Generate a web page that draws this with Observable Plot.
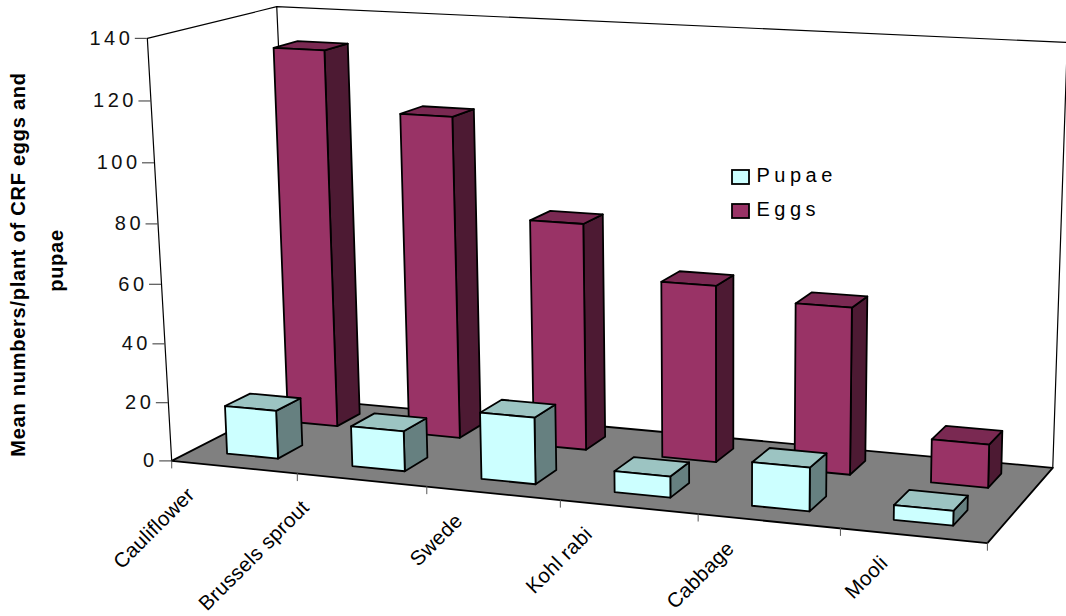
<!DOCTYPE html>
<html>
<head>
<meta charset="utf-8">
<title>Mean numbers per plant of CRF eggs and pupae</title>
<script src="https://cdn.jsdelivr.net/npm/d3@7"></script>
<script src="https://cdn.jsdelivr.net/npm/@observablehq/plot@0.6"></script>
<style>
  html, body { margin: 0; padding: 0; background: #fff; }
  svg { display: block; }
</style>
</head>
<body>
<div id="chart"></div>
<script>
// Chart values
const categories = ["Cauliflower", "Brussels sprout", "Swede", "Kohl rabi", "Cabbage", "Mooli"];
const pupae = [16.5, 13.6, 22.3, 7, 14.3, 4.8];
const eggs = [130.2, 110.3, 77.3, 59.8, 56, 14.5];
const valueTicks = [0, 20, 40, 60, 80, 100, 120, 140];
const valueMax = 140;
const titleLines = ["Mean numbers/plant of CRF eggs and", "pupae"];
const seriesNames = ["Pupae", "Eggs"];

// Horizontal nudge of each rotated category label, in screen units
const labelShift = [-43, -56, -34, -40, -38, -29];

// Camera calibration: box corners (category, depth, value) and where they land on screen
const corners = [
  [0, 0, 0, 170, 460],
  [1, 0, 0, 987, 543],
  [0, 1, 0, 295, 398],
  [1, 1, 0, 1052, 467],
  [0, 0, 1, 148, 38],
  [0, 1, 1, 275, 6],
  [1, 1, 1, 1067, 42]
];

// Least-squares fit of a 3x4 projective camera with its last entry fixed at 1
function fitCamera(pairs) {
  const rows = [], rhs = [];
  for (const [u, v, w, x, y] of pairs) {
    rows.push([u, v, w, 1, 0, 0, 0, 0, -x * u, -x * v, -x * w]); rhs.push(x);
    rows.push([0, 0, 0, 0, u, v, w, 1, -y * u, -y * v, -y * w]); rhs.push(y);
  }
  const n = 11;
  const M = d3.range(n).map(i => d3.range(n + 1).map(j =>
    d3.sum(rows, (r, k) => r[i] * (j < n ? r[j] : rhs[k]))));
  for (let c = 0; c < n; c++) {
    let p = c;
    for (let r = c + 1; r < n; r++) if (Math.abs(M[r][c]) > Math.abs(M[p][c])) p = r;
    [M[c], M[p]] = [M[p], M[c]];
    for (let r = 0; r < n; r++) {
      if (r === c) continue;
      const f = M[r][c] / M[c][c];
      for (let j = c; j <= n; j++) M[r][j] -= f * M[c][j];
    }
  }
  return M.map((r, i) => r[n] / r[i]);
}
const cam = fitCamera(corners);

// Project (category position, depth 0..1, value) to screen space
function project(cat, depth, value) {
  const u = cat / categories.length, v = depth, w = value / valueMax;
  const d = cam[8] * u + cam[9] * v + cam[10] * w + 1;
  return [
    (cam[0] * u + cam[1] * v + cam[2] * w + cam[3]) / d,
    (cam[4] * u + cam[5] * v + cam[6] * w + cam[7]) / d
  ];
}

// Bars lean a little less than the walls: only part of the sideways drift is kept
const barLean = 0.85;
function projectBar(cat, depth, value) {
  const [x0] = project(cat, depth, 0);
  const [x, y] = project(cat, depth, value);
  return [x0 + (x - x0) * barLean, y];
}

// Polygon faces, listed back to front so later ones paint over earlier ones
const faces = [];
function addFace(fill, pts, proj = project) {
  const id = faces.length ? faces[faces.length - 1].id + 1 : 0;
  for (const p of pts) {
    const [x, y] = proj(...p);
    faces.push({id, x, y, fill});
  }
}
addFace("#808080", [[0, 0, 0], [6, 0, 0], [6, 1, 0], [0, 1, 0]]);

const barInset = 0.295, barShift = -0.015;
function addBar(i, depthFront, depthBack, value, front, top, side) {
  const l = i + barInset + barShift, r = i + 1 - barInset + barShift;
  addFace(side, [[r, depthFront, 0], [r, depthBack, 0], [r, depthBack, value], [r, depthFront, value]], projectBar);
  addFace(top, [[l, depthFront, value], [r, depthFront, value], [r, depthBack, value], [l, depthBack, value]], projectBar);
  addFace(front, [[l, depthFront, 0], [r, depthFront, 0], [r, depthFront, value], [l, depthFront, value]], projectBar);
}
eggs.forEach((v, i) => addBar(i, 0.66, 0.86, v, "#993366", "#7a2952", "#4d1a33"));
pupae.forEach((v, i) => addBar(i, 0.16, 0.36, v, "#ccffff", "#9cc4c2", "#668080"));

// Open frame lines of the two walls
const frame = [];
[[[0, 0, 0], [0, 0, valueMax], [0, 1, valueMax], [6, 1, valueMax], [6, 1, 0]],
 [[0, 1, valueMax], [0, 1, 0]]].forEach((path, id) => {
  for (const p of path) {
    const [x, y] = project(...p);
    frame.push({id, x, y});
  }
});

// Value axis ticks and labels
const valueAxis = valueTicks.map(t => {
  const [x, y] = project(0, 0, t);
  return {t, x, y};
});

// Category ticks along the front edge of the floor
const catTicks = d3.range(categories.length + 1).map(i => {
  const [x, y] = project(i, 0, 0);
  return {x, y};
});

const catLabels = categories.map((name, i) => {
  const [x, y] = project(i + 0.5, 0, 0);
  return {name, x: x + labelShift[i], y: y + 24};
});

const legend = seriesNames.map((name, row) => ({name, row, fill: ["#ccffff", "#993366"][row]}));
const legendX = 732, legendY = 170, legendRow = 34, swatch = 17;

const chart = Plot.plot({
  width: 1066,
  height: 616,
  margin: 0,
  x: {domain: [0, 1066], range: [0, 1066], axis: null},
  y: {domain: [0, 616], range: [0, 616], axis: null},
  style: {background: "#fff", fontFamily: "Liberation Sans, Arial, sans-serif"},
  marks: [
    Plot.line(frame, {x: "x", y: "y", z: "id", stroke: "#000", strokeWidth: 1.2}),
    Plot.line(faces, {x: "x", y: "y", z: "id", fill: "fill", stroke: "#000", strokeWidth: 1.8,
      curve: "linear-closed", strokeLinejoin: "round"}),
    Plot.ruleX(catTicks, {x: "x", y1: "y", y2: d => d.y + 8, stroke: "#555", strokeWidth: 1}),
    Plot.ruleY(valueAxis, {x1: d => d.x - 12, x2: "x", y: "y", stroke: "#333", strokeWidth: 1}),
    Plot.text(valueAxis, {x: d => d.x - 14, y: "y", text: d => String(d.t), textAnchor: "end",
      fontSize: 20, fill: "#111"}),
    Plot.text(catLabels, {x: "x", y: "y", text: "name", rotate: -45, textAnchor: "end",
      fontSize: 20.5, fill: "#000"}),
    Plot.text(titleLines, {x: (d, i) => [18, 56][i], y: (d, i) => [264, 260][i], text: d => d, rotate: -90,
      fontSize: 20, fontWeight: "bold", fill: "#000"}),
    Plot.rect(legend, {x1: () => legendX, x2: () => legendX + swatch,
      y1: d => legendY + d.row * legendRow, y2: d => legendY + d.row * legendRow + 14,
      fill: "fill", stroke: "#000", strokeWidth: 1.8}),
    Plot.text(legend, {x: () => legendX + swatch + 7, y: d => legendY + d.row * legendRow + 5,
      text: "name", textAnchor: "start", fontSize: 20, fill: "#000"})
  ]
});

// Tracking for each group of labels, which the text mark has no option for
const tracking = new Map([
  ...valueTicks.map(t => [String(t), "3.5px"]),
  ...categories.map(c => [c, "0.3px"]),
  ...titleLines.map(t => [t, "0.75px"]),
  ...seriesNames.map(s => [s, "4.5px"])
]);
d3.select(chart).selectAll("text").each(function () {
  const spacing = tracking.get(this.textContent);
  if (spacing) this.style.letterSpacing = spacing;
});

document.getElementById("chart").append(chart);
</script>
</body>
</html>
